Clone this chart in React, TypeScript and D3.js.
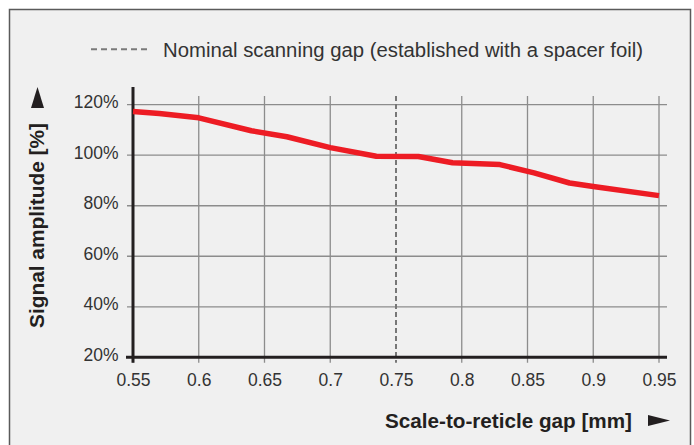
import React from "react";
import * as d3 from "d3";

const gapMm = [0.55, 0.57, 0.6, 0.64, 0.667, 0.7, 0.735, 0.767, 0.793, 0.829, 0.855, 0.882, 0.9, 0.95];
const amplitudePct = [117.3, 116.5, 114.8, 109.7, 107.3, 103, 99.6, 99.5, 97, 96.3, 93, 89, 87.6, 84];
const xTicks = [0.55, 0.6, 0.65, 0.7, 0.75, 0.8, 0.85, 0.9, 0.95];
const yTicks = [20, 40, 60, 80, 100, 120];
const nominalGap = 0.75;
const legendLabel = "Nominal scanning gap (established with a spacer foil)";
const xTitle = "Scale-to-reticle gap [mm]";
const yTitle = "Signal amplitude [%]";

const FONT = "'Liberation Sans', Arial, Helvetica, sans-serif";

export default function App() {
  const x = d3.scaleLinear().domain([0.55, 0.95]).range([133, 659]);
  const y = d3.scaleLinear().domain([20, 120]).range([357.3, 104.7]);
  const line = d3
    .line<number>()
    .x((_, i) => x(gapMm[i]))
    .y((d) => y(d))
    .curve(d3.curveLinear);

  return (
    <svg
      width={694}
      height={445}
      style={{ position: "absolute", left: 0, top: 0, background: "#fff" }}
    >
      <rect x={9.5} y={9.5} width={681} height={445} fill="#f0f0f0" stroke="#5a5a5a" strokeWidth={1.5} />

      {/* legend */}
      <line x1={91} x2={149} y1={49.3} y2={49.3} stroke="#7a7a7a" strokeWidth={2} strokeDasharray="6,4" />
      <text x={163} y={57} fontFamily={FONT} fontSize={20} fill="#333" textLength={480} lengthAdjust="spacingAndGlyphs">
        {legendLabel}
      </text>

      {/* horizontal grid */}
      {yTicks.map((t) => (
        <line key={"h" + t} x1={127} x2={667} y1={y(t)} y2={y(t)} stroke="#8c8c8c" strokeWidth={1.3} />
      ))}
      {/* vertical grid */}
      {xTicks.map((t) =>
        t === nominalGap ? null : (
          <line key={"v" + t} x1={x(t)} x2={x(t)} y1={96} y2={362.7} stroke="#8c8c8c" strokeWidth={1.3} />
        )
      )}
      {/* nominal gap dashed */}
      <line x1={x(nominalGap)} x2={x(nominalGap)} y1={96} y2={362.7} stroke="#777" strokeWidth={2} strokeDasharray="5,3" />

      {/* axes */}
      <line x1={133} x2={133} y1={87} y2={362.7} stroke="#231f20" strokeWidth={3} />
      <line x1={126} x2={667} y1={357.3} y2={357.3} stroke="#231f20" strokeWidth={3} />

      {/* data line */}
      <path d={line(amplitudePct) || ""} fill="none" stroke="#ed1c24" strokeWidth={5.5} strokeLinejoin="round" />

      {/* y tick labels */}
      {yTicks.map((t) => (
        <text key={"yl" + t} x={118.5} y={y(t) + 3.5} textAnchor="end" fontFamily={FONT} fontSize={17.5} fill="#333">
          {t}%
        </text>
      ))}
      {/* x tick labels */}
      {xTicks.map((t) => (
        <text key={"xl" + t} x={x(t) + 0.5} y={386} textAnchor="middle" fontFamily={FONT} fontSize={17.5} fill="#333">
          {String(t)}
        </text>
      ))}

      {/* y title */}
      <text
        transform="translate(43.5,225.5) rotate(-90)"
        textAnchor="middle"
        fontFamily={FONT}
        fontSize={19.5}
        fontWeight="bold"
        fill="#231f20"
        textLength={205}
        lengthAdjust="spacingAndGlyphs"
      >
        {yTitle}
      </text>
      <path d="M37.5,87 L31,108 L44,108 Z" fill="#231f20" />

      {/* x title */}
      <text x={385} y={428} fontFamily={FONT} fontSize={19.5} fontWeight="bold" fill="#231f20" textLength={247} lengthAdjust="spacingAndGlyphs">
        {xTitle}
      </text>
      <path d="M648,415 L670,420.5 L648,426 Z" fill="#231f20" />
    </svg>
  );
}
